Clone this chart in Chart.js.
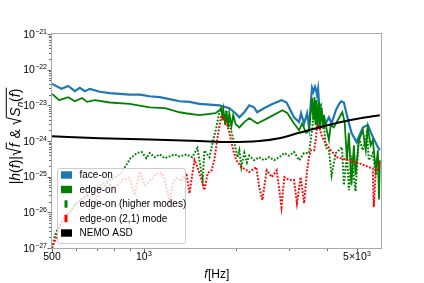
<!DOCTYPE html>
<html>
<head>
<meta charset="utf-8">
<script src="https://cdn.jsdelivr.net/npm/chart.js@4.4.0/dist/chart.umd.min.js"></script>
<style>
  html, body { margin: 0; padding: 0; background: #fff; }
  #wrap { width: 424px; height: 283px; }
</style>
</head>
<body>
<div id="wrap"><canvas id="asdChart" width="424" height="283"></canvas></div>
<script>
// face-on
const faceFreq = [500, 537, 565, 594, 617, 641, 665, 717, 774, 834, 899, 970, 1045, 1127, 1215, 1310, 1412, 1522, 1642, 1770,
  1908, 2000, 2058, 2137, 2218, 2300, 2356, 2480, 2630, 2830, 2940, 3110, 3233, 3280, 3357, 3433, 3484, 3537, 3564, 3600,
  3645, 3673, 3701, 3730, 3757, 3817, 3950, 4049, 4130, 4268, 4367, 4440, 4534, 4620, 4800, 4990, 5230, 5430, 5640, 5860, 5946];
const faceAmp = [4.0e-23, 2.9e-23, 3.5e-23, 2.5e-23, 3.1e-23, 2.5e-23, 2.9e-23, 2.4e-23, 2.2e-23, 2.1e-23, 2.0e-23, 2.0e-23, 1.8e-23, 1.7e-23, 1.5e-23, 1.3e-23, 1.25e-23, 1.1e-23, 1.05e-23, 1.0e-23,
  8.3e-24, 6.0e-24, 4.6e-24, 6.4e-24, 1.0e-23, 8.8e-24, 6.4e-24, 8.3e-24, 1.07e-23, 1.4e-23, 1.2e-23, 4.6e-24, 3.4e-24, 6.0e-24, 3.1e-24, 6.0e-24, 2.4e-24, 1.4e-23, 3.1e-23, 2.4e-23,
  3.3e-23, 2.7e-23, 1.95e-23, 2.9e-23, 1.2e-23, 6.0e-24, 3.1e-24, 4.6e-24, 3.1e-24, 7.3e-24, 1.07e-23, 1.3e-23, 1.2e-23, 6.0e-24, 1.7e-24, 9.3e-25, 2.4e-24, 2.8e-24, 1.3e-24, 6.7e-25, 5.5e-25];

// edge-on
const edgeFreq = [500, 528, 565, 594, 627, 652, 691, 774, 899, 1045, 1175, 1310, 1370, 1522, 1720, 1770, 1797, 1812, 1825, 1850,
  1865, 1893, 1908, 1940, 1965, 2000, 2058, 2137, 2218, 2356, 2579, 2850, 2960, 3110, 3233, 3306, 3407, 3484, 3537, 3564,
  3600, 3630, 3660, 3690, 3720, 3757, 3790, 3830, 3880, 3900, 3985, 4049, 4105, 4200, 4367, 4480, 4560, 4640, 4708, 4800,
  4889, 4950, 5076, 5230, 5350, 5430, 5550, 5640, 5770, 5860, 5910, 5946];
const edgeAmp = [2.1e-23, 1.4e-23, 1.7e-23, 1.3e-23, 1.6e-23, 1.25e-23, 1.4e-23, 1.2e-23, 1.1e-23, 8.8e-24, 8.3e-24, 6.4e-24, 6.0e-24, 5.3e-24, 6.0e-24, 7.3e-24, 8.3e-24, 3.8e-24, 7.3e-24, 2.8e-24,
  6.8e-24, 2.4e-24, 6.0e-24, 2.6e-24, 5.3e-24, 3.0e-24, 2.4e-24, 3.4e-24, 4.4e-24, 3.1e-24, 4.6e-24, 7.3e-24, 6.0e-24, 3.1e-24, 2.0e-24, 3.1e-24, 1.7e-24, 2.0e-24, 7.3e-24, 1.6e-23,
  3.8e-24, 1.7e-23, 2.8e-24, 1.4e-23, 2.3e-24, 1.2e-23, 2.0e-24, 8.3e-24, 2.3e-24, 5.3e-24, 2.0e-24, 1.06e-24, 2.8e-24, 2.4e-24, 4.4e-24, 6.4e-24, 3.4e-24, 2.9e-25, 1.7e-24, 5.8e-26,
  7.6e-25, 1.1e-25, 1.06e-24, 2.0e-24, 5.5e-25, 2.4e-24, 7.6e-25, 1.06e-24, 1.5e-25, 5.5e-25, 2.3e-26, 2.9e-25];

// edge-on (higher modes)
const higherFreq = [500, 511, 523, 543, 565, 594, 641, 691, 746, 803, 847, 875, 905, 950, 985, 1020, 1045, 1086, 1127, 1170,
  1215, 1260, 1310, 1380, 1440, 1500, 1560, 1581, 1642, 1690, 1730, 1770, 1797, 1838, 1865, 1908, 1982, 2030, 2058, 2090,
  2137, 2180, 2218, 2300, 2391, 2480, 2579, 2680, 2781, 2890, 2998, 3110, 3233, 3357, 3484, 3564, 3645, 3730, 3817, 3900,
  3950, 4049, 4130, 4268, 4367, 4470, 4534, 4640, 4708, 4800, 4950, 5076, 5230, 5400, 5473, 5640, 5770, 5860, 5946];
const higherAmp = [1.0e-27, 2.2e-27, 3.6e-27, 5.7e-27, 8.9e-27, 1.6e-26, 2.8e-26, 4.8e-26, 7.0e-26, 9.1e-26, 1.34e-25, 2.1e-25, 3.3e-25, 4.6e-25, 4.9e-25, 3.3e-25, 4.6e-25, 3.5e-25, 4.2e-25, 3.3e-25,
  3.7e-25, 4.2e-25, 3.7e-25, 4.2e-25, 3.5e-25, 6.3e-25, 8.0e-26, 5.4e-25, 3.5e-25, 1.06e-24, 2.4e-24, 6.4e-24, 8.3e-24, 4.3e-24, 7.3e-24, 3.1e-24, 8.7e-25, 3.5e-25, 5.5e-25, 1.85e-25,
  4.6e-25, 2.5e-25, 3.9e-25, 2.9e-25, 3.5e-25, 2.9e-25, 3.5e-25, 2.9e-25, 3.5e-25, 4.6e-25, 3.9e-25, 4.9e-25, 2.9e-25, 4.6e-25, 4.6e-25, 2.0e-24, 1.4e-23, 7.3e-24, 1.0e-23, 2.8e-24,
  6.7e-25, 5.5e-25, 1.1e-25, 4.6e-25, 5.5e-25, 6.7e-25, 5.8e-26, 4.6e-25, 4.2e-26, 3.9e-25, 3.9e-26, 1.28e-24, 5.5e-25, 1.8e-24, 2.9e-25, 4.6e-25, 1.1e-25, 1.5e-25, 2.1e-25];

// edge-on (2,1) mode
const modeFreq = [500, 515, 531, 551, 573, 594, 617, 656, 691, 717, 762, 803, 847, 899, 934, 970, 1007, 1045, 1100, 1150,
  1180, 1215, 1250, 1280, 1330, 1380, 1412, 1430, 1467, 1500, 1560, 1581, 1620, 1670, 1705, 1750, 1797, 1825, 1865, 1908,
  1965, 2010, 2090, 2180, 2218, 2340, 2391, 2450, 2530, 2630, 2730, 2830, 2890, 2998, 3110, 3180, 3270, 3357, 3433, 3484,
  3537, 3620, 3673, 3701, 3757, 3845, 3950, 4105, 4300, 4708, 5076, 5473, 5640, 5682, 5770, 5860, 5946];
const modeAmp = [1.0e-27, 1.9e-27, 4.1e-27, 8.3e-27, 1.0e-26, 1.6e-26, 2.2e-26, 2.8e-26, 1.6e-26, 4.2e-26, 6.6e-26, 4.8e-26, 8.0e-26, 9.1e-26, 3.0e-26, 1.4e-25, 5.8e-26, 7.5e-26, 1.2e-25, 1.25e-25,
  6.2e-26, 2.1e-26, 7.0e-26, 9.1e-26, 7.5e-26, 1.25e-25, 3.4e-26, 7.0e-26, 2.9e-25, 1.85e-25, 6.6e-26, 4.2e-26, 1.25e-25, 1.5e-25, 3.0e-25, 1.45e-24, 5.3e-24, 4.6e-24, 3.4e-24, 1.76e-24,
  5.5e-25, 2.9e-25, 1.85e-25, 1.5e-25, 1.35e-25, 1.85e-25, 5.1e-26, 2.2e-26, 1.5e-25, 9.7e-26, 1.5e-25, 1.4e-26, 9.7e-26, 8.0e-26, 8.0e-26, 1.8e-26, 9.7e-26, 1.8e-26, 1.5e-25, 3.5e-25,
  5.5e-25, 5.5e-25, 1.2e-24, 2.8e-24, 2.6e-24, 1.3e-24, 8.7e-25, 5.5e-25, 3.5e-25, 2.9e-25, 2.4e-25, 1.85e-25, 1.7e-25, 1.4e-26, 1.5e-25, 1.5e-25, 2.9e-25];

// NEMO ASD
const nemoFreq = [500, 717, 1045, 1522, 1908, 2391, 2781, 3233, 3757, 4367, 5076, 5946];
const nemoAmp = [1.36e-24, 1.2e-24, 1.1e-24, 1.0e-24, 9.3e-25, 1.0e-24, 1.2e-24, 1.7e-24, 2.4e-24, 3.3e-24, 4.3e-24, 5.3e-24];

// axes
const yExponents = [-21, -22, -23, -24, -25, -26, -27];
const xMajorTicks = [500, 1000, 5000];
const xMajorLabels = [["500", ""], ["10", "3"], ["5\u00d710", "3"]];
const xMinorTicks = [600, 700, 800, 900, 2000, 3000, 4000];
const legendLabels = ["face-on", "edge-on", "edge-on (higher modes)", "edge-on (2,1) mode", "NEMO ASD"];

const toPoints = (fs, as) => fs.map((f, i) => ({ x: f, y: as[i] }));
const FONT = '"Liberation Sans", Arial, sans-serif';

function drawYLabel(ctx, cx, cy) {
  const F = 14;
  const fonts = {
    n: `${F}px ${FONT}`,
    i: `italic ${F}px ${FONT}`,
    s: `italic ${F * 0.7}px ${FONT}`,
  };
  const rootW = F * 0.62;
  const seq = [
    ["|", "n"], ["h", "i"], ["(", "n"], ["f", "i"], [")", "n"], ["|", "n"],
    ["root", [["f", "i"]]],
    [" & ", "n"],
    ["root", [["S", "i"], ["n", "s"], ["(", "n"], ["f", "i"], [")", "n"]]],
  ];
  const w = (t, k) => { ctx.font = fonts[k]; return ctx.measureText(t).width; };
  let total = 0;
  seq.forEach(([t, k]) => {
    if (t === "root") total += rootW + k.reduce((s, [tt, kk]) => s + w(tt, kk), 0) + 1;
    else total += w(t, k);
  });
  ctx.save();
  ctx.translate(cx, cy);
  ctx.rotate(-Math.PI / 2);
  ctx.fillStyle = "#000";
  ctx.strokeStyle = "#000";
  ctx.textBaseline = "alphabetic";
  let x = -total / 2;
  const put = (t, k) => {
    ctx.font = fonts[k];
    ctx.fillText(t, x, k === "s" ? F * 0.2 : 0);
    x += ctx.measureText(t).width;
  };
  seq.forEach(([t, k]) => {
    if (t !== "root") { put(t, k); return; }
    const x0 = x;
    const inner = k.reduce((s, [tt, kk]) => s + w(tt, kk), 0);
    ctx.lineWidth = 1;
    ctx.beginPath();
    ctx.moveTo(x0 + F * 0.04, -F * 0.42);
    ctx.lineTo(x0 + F * 0.14, -F * 0.48);
    ctx.lineTo(x0 + F * 0.3, F * 0.08);
    ctx.lineTo(x0 + F * 0.55, -F * 0.98);
    ctx.lineTo(x0 + rootW + inner + 1, -F * 0.98);
    ctx.stroke();
    x += rootW;
    k.forEach(([tt, kk]) => put(tt, kk));
    x += 1;
  });
  ctx.restore();
}

const decorPlugin = {
  id: "decor",
  afterDatasetsDraw(chart) {
    const { ctx, chartArea: a, scales: { x, y } } = chart;
    ctx.save();

    // legend box
    const lx = 57, ly = 168, lw = 128, lh = 75;
    ctx.fillStyle = "rgba(255,255,255,0.8)";
    ctx.strokeStyle = "#cccccc";
    ctx.lineWidth = 1;
    ctx.beginPath();
    ctx.roundRect(lx + 0.5, ly + 0.5, lw, lh, 2);
    ctx.fill();
    ctx.stroke();
    const handles = [
      ["#1f77b4", 61, 11],
      ["#008000", 61, 11],
      ["#008000", 64.5, 3],
      ["#ff0000", 64.5, 3],
      ["#000000", 61, 11],
    ];
    ctx.font = `10px ${FONT}`;
    ctx.textBaseline = "middle";
    ctx.textAlign = "left";
    legendLabels.forEach((lab, i) => {
      const cy = 175 + i * 14.5;
      const [col, hx, hw] = handles[i];
      ctx.fillStyle = col;
      ctx.fillRect(hx, cy - 3.7, hw, 7.4);
      ctx.fillStyle = "#000";
      ctx.fillText(lab, 79.5, cy + 0.5);
    });

    // frame
    ctx.strokeStyle = "#a8a8a8";
    ctx.lineWidth = 1;
    ctx.strokeRect(a.left - 0.5, a.top - 0.5, a.right - a.left + 1, a.bottom - a.top + 1);

    // y ticks and labels
    ctx.strokeStyle = "#444";
    ctx.lineWidth = 0.8;
    yExponents.forEach((e) => {
      for (let m = 1; m <= 9; m++) {
        if (e === -21 && m > 1) break;
        const py = Math.round(y.getPixelForValue(m * Math.pow(10, e))) + 0.5;
        const len = m === 1 ? 3.5 : 2;
        ctx.beginPath();
        ctx.moveTo(a.left - 1, py);
        ctx.lineTo(a.left - 1 - len, py);
        ctx.stroke();
      }
      const py = y.getPixelForValue(Math.pow(10, e));
      const sup = "\u2212" + String(-e);
      ctx.fillStyle = "#000";
      ctx.textBaseline = "alphabetic";
      ctx.font = `7px ${FONT}`;
      const sw = ctx.measureText(sup).width;
      ctx.fillText(sup, 47 - sw, py - 0.5);
      ctx.font = `10.5px ${FONT}`;
      const bw = ctx.measureText("10").width;
      ctx.fillText("10", 47 - sw - bw - 0.3, py + 3.8);
    });

    // x ticks and labels
    const xTick = (v, len) => {
      const px = Math.round(x.getPixelForValue(v)) + 0.5;
      ctx.beginPath();
      ctx.moveTo(px, a.bottom + 1);
      ctx.lineTo(px, a.bottom + 1 + len);
      ctx.stroke();
    };
    xMinorTicks.forEach((v) => xTick(v, 2));
    xMajorTicks.forEach((v, i) => {
      xTick(v, 3.5);
      const px = x.getPixelForValue(v);
      const [base, sup] = xMajorLabels[i];
      ctx.font = `10.5px ${FONT}`;
      const bw = ctx.measureText(base).width;
      ctx.font = `7px ${FONT}`;
      const sw = sup ? ctx.measureText(sup).width : 0;
      const x0 = px - (bw + sw) / 2;
      ctx.fillStyle = "#000";
      ctx.font = `10.5px ${FONT}`;
      ctx.fillText(base, x0, 260.3);
      if (sup) {
        ctx.font = `7px ${FONT}`;
        ctx.fillText(sup, x0 + bw + 0.3, 256);
      }
    });

    // x title
    ctx.font = `italic 12px ${FONT}`;
    const fw = ctx.measureText("f").width;
    ctx.font = `12px ${FONT}`;
    const hw = ctx.measureText("[Hz]").width;
    const tx = (a.left + a.right) / 2 - (fw + hw) / 2;
    ctx.font = `italic 12px ${FONT}`;
    ctx.fillText("f", tx, 278);
    ctx.font = `12px ${FONT}`;
    ctx.fillText("[Hz]", tx + fw + 0.5, 278);

    // y title
    drawYLabel(ctx, 20, (a.top + a.bottom) / 2 - 5);

    ctx.restore();
  },
};

const ctx = document.getElementById("asdChart").getContext("2d");
const asdChart = new Chart(ctx, {
  type: "line",
  data: {
    datasets: [
      {
        label: "face-on",
        data: toPoints(faceFreq, faceAmp),
        borderColor: "#1f77b4",
        borderWidth: 2.2,
        order: 5,
      },
      {
        label: "edge-on",
        data: toPoints(edgeFreq, edgeAmp),
        borderColor: "#008000",
        borderWidth: 1.8,
        order: 4,
      },
      {
        label: "edge-on (higher modes)",
        data: toPoints(higherFreq, higherAmp),
        borderColor: "#008000",
        borderWidth: 2,
        borderDash: [1.8, 1.6],
        order: 3,
      },
      {
        label: "edge-on (2,1) mode",
        data: toPoints(modeFreq, modeAmp),
        borderColor: "#ff0000",
        borderWidth: 2,
        borderDash: [1.8, 1.6],
        order: 2,
      },
      {
        label: "NEMO ASD",
        data: toPoints(nemoFreq, nemoAmp),
        borderColor: "#000000",
        borderWidth: 2,
        cubicInterpolationMode: "monotone",
        order: 1,
      },
    ],
  },
  options: {
    responsive: false,
    devicePixelRatio: 1,
    animation: false,
    layout: { padding: { left: 52, right: 43, top: 34, bottom: 35 } },
    elements: { point: { radius: 0 }, line: { fill: false, tension: 0 } },
    plugins: { legend: { display: false }, tooltip: { enabled: false } },
    scales: {
      x: { type: "logarithmic", min: 500, max: 6000, display: false },
      y: { type: "logarithmic", min: 1e-27, max: 1e-21, display: false },
    },
  },
  plugins: [decorPlugin],
});
</script>
</body>
</html>
